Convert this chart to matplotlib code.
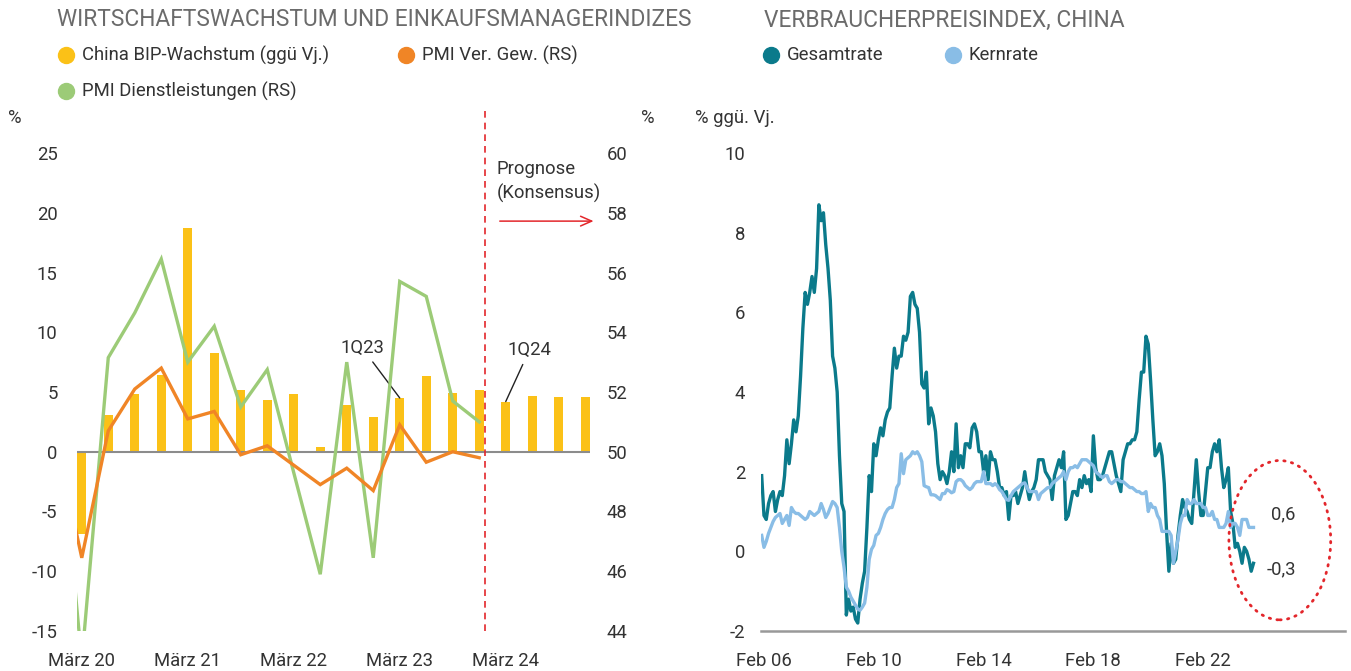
import matplotlib
matplotlib.use('Agg')
import matplotlib.pyplot as plt
import numpy as np
import pandas as pd
from matplotlib.lines import Line2D
from matplotlib.patches import Ellipse

plt.rcParams['font.family'] = ['Roboto', 'DejaVu Sans']
plt.rcParams['axes.unicode_minus'] = False

# ---------------- Left chart data ----------------
quarters = ['1Q20', '2Q20', '3Q20', '4Q20', '1Q21', '2Q21', '3Q21', '4Q21',
            '1Q22', '2Q22', '3Q22', '4Q22', '1Q23', '2Q23', '3Q23', '4Q23',
            '1Q24', '2Q24', '3Q24', '4Q24']
gdp_growth = [-6.9, 3.1, 4.8, 6.4, 18.7, 8.3, 5.2, 4.3,
              4.8, 0.4, 3.9, 2.9, 4.5, 6.3, 4.9, 5.2,
              4.2, 4.7, 4.6, 4.6]
pmi_quarters = ['4Q19'] + quarters[:16]
pmi_manufacturing = [50.6, 46.45, 50.7, 52.1, 52.8, 51.1, 51.35, 49.9, 50.2,
                     49.55, 48.9, 49.45, 48.7, 50.9, 49.65, 50.0, 49.8]
pmi_services = [52.5, 43.0, 53.15, 54.65, 56.45, 53.0, 54.2, 51.5, 52.75,
                49.3, 45.9, 53.0, 46.45, 55.7, 55.2, 51.7, 51.0]
left_tick_quarters = ['1Q20', '1Q21', '1Q22', '1Q23', '1Q24']
left_tick_labels = ['März 20', 'März 21', 'März 22', 'März 23', 'März 24']
forecast_start = '1Q24'

# ---------------- Right chart data (monthly, Jan 2006 - Dec 2023) ----------------
cpi_headline_by_year = {
    2006: [1.9, 0.9, 0.8, 1.2, 1.4, 1.5, 1.0, 1.3, 1.5, 1.4, 1.9, 2.8],
    2007: [2.2, 2.7, 3.3, 3.0, 3.4, 4.4, 5.6, 6.5, 6.2, 6.5, 6.9, 6.5],
    2008: [7.1, 8.7, 8.3, 8.5, 7.7, 7.1, 6.3, 4.9, 4.6, 4.0, 2.4, 1.2],
    2009: [1.0, -1.6, -1.2, -1.5, -1.4, -1.7, -1.8, -1.2, -0.8, -0.5, 0.6, 1.9],
    2010: [1.5, 2.7, 2.4, 2.8, 3.1, 2.9, 3.3, 3.5, 3.6, 4.4, 5.1, 4.6],
    2011: [4.9, 4.9, 5.4, 5.3, 5.5, 6.4, 6.5, 6.2, 6.1, 5.5, 4.2, 4.1],
    2012: [4.5, 3.2, 3.6, 3.4, 3.0, 2.2, 1.8, 2.0, 1.9, 1.7, 2.0, 2.5],
    2013: [2.0, 3.2, 2.1, 2.4, 2.1, 2.7, 2.7, 2.6, 3.1, 3.2, 3.0, 2.5],
    2014: [2.5, 2.0, 2.4, 1.8, 2.5, 2.3, 2.3, 2.0, 1.6, 1.6, 1.4, 1.5],
    2015: [0.8, 1.4, 1.4, 1.5, 1.2, 1.4, 1.6, 2.0, 1.6, 1.3, 1.5, 1.6],
    2016: [1.8, 2.3, 2.3, 2.3, 2.0, 1.9, 1.8, 1.3, 1.9, 2.1, 2.3, 2.1],
    2017: [2.5, 0.8, 0.9, 1.2, 1.5, 1.5, 1.4, 1.8, 1.6, 1.9, 1.7, 1.8],
    2018: [1.5, 2.9, 2.1, 1.8, 1.8, 1.9, 2.1, 2.3, 2.5, 2.5, 2.2, 1.9],
    2019: [1.7, 1.5, 2.3, 2.5, 2.7, 2.7, 2.8, 2.8, 3.0, 3.8, 4.5, 4.5],
    2020: [5.4, 5.2, 4.3, 3.3, 2.4, 2.5, 2.7, 2.4, 1.7, 0.5, -0.5, 0.2],
    2021: [-0.3, -0.2, 0.4, 0.9, 1.3, 1.1, 1.0, 0.8, 0.7, 1.5, 2.3, 1.5],
    2022: [0.9, 0.9, 1.5, 2.1, 2.1, 2.5, 2.7, 2.5, 2.8, 2.1, 1.6, 1.8],
    2023: [2.1, 1.0, 0.7, 0.1, 0.2, 0.0, -0.3, 0.1, 0.0, -0.2, -0.5, -0.3],
}
cpi_core_by_year = {
    2006: [0.4, 0.1, 0.25, 0.45, 0.6, 0.75, 0.85, 0.9, 0.95, 0.7, 0.8, 0.9],
    2007: [0.65, 1.1, 1.0, 0.95, 0.95, 0.9, 0.85, 0.8, 0.85, 1.0, 0.95, 0.9],
    2008: [0.95, 1.0, 1.2, 1.05, 0.85, 0.95, 1.1, 1.25, 1.2, 1.1, 0.6, 0.0],
    2009: [-0.4, -0.9, -1.0, -1.15, -1.25, -1.35, -1.45, -1.48, -1.4, -1.3, -0.9, -0.2],
    2010: [0.05, 0.15, 0.4, 0.45, 0.6, 0.8, 0.95, 1.05, 1.1, 1.1, 1.3, 1.6],
    2011: [1.7, 2.45, 1.95, 2.3, 2.35, 2.4, 2.5, 2.45, 2.5, 2.4, 2.25, 1.65],
    2012: [1.62, 1.6, 1.42, 1.42, 1.4, 1.35, 1.3, 1.45, 1.45, 1.55, 1.52, 1.47],
    2013: [1.5, 1.75, 1.8, 1.8, 1.75, 1.65, 1.6, 1.55, 1.6, 1.7, 1.75, 1.75],
    2014: [1.75, 2.0, 1.7, 1.7, 1.7, 1.65, 1.7, 1.65, 1.55, 1.5, 1.4, 1.3],
    2015: [1.28, 1.4, 1.5, 1.55, 1.6, 1.65, 1.7, 1.72, 1.6, 1.5, 1.5, 1.5],
    2016: [1.5, 1.3, 1.45, 1.5, 1.55, 1.6, 1.6, 1.7, 1.75, 1.8, 1.85, 1.9],
    2017: [2.0, 1.8, 2.0, 2.1, 2.1, 2.15, 2.1, 2.2, 2.3, 2.3, 2.3, 2.25],
    2018: [2.2, 2.15, 2.0, 1.95, 1.9, 1.85, 1.9, 1.9, 1.75, 1.7, 1.75, 1.8],
    2019: [1.8, 1.75, 1.75, 1.7, 1.65, 1.6, 1.6, 1.55, 1.5, 1.5, 1.45, 1.45],
    2020: [1.5, 1.0, 1.2, 1.1, 1.1, 0.9, 0.8, 0.5, 0.5, 0.5, 0.5, 0.4],
    2021: [-0.3, 0.0, 0.3, 0.7, 0.9, 0.9, 1.3, 1.2, 1.2, 1.3, 1.2, 1.2],
    2022: [1.2, 1.1, 1.1, 0.9, 0.9, 1.0, 0.8, 0.8, 0.6, 0.6, 0.6, 0.7],
    2023: [1.0, 0.6, 0.7, 0.7, 0.6, 0.4, 0.8, 0.8, 0.8, 0.6, 0.6, 0.6],
}
cpi_start = '2006-01-01'
right_tick_years = [2006, 2010, 2014, 2018, 2022]

# ---------------- Styling ----------------
C_YELLOW = '#FBC117'
C_ORANGE = '#F08526'
C_GREEN = '#9CCB77'
C_TEAL = '#0B7A8B'
C_LBLUE = '#89BDE6'
C_RED = '#E3262B'
C_TITLE = '#6B6B6B'
C_TEXT = '#333333'
C_AXIS = '#8C8C8C'
FS = 13.3

W, H = 1351, 671
fig = plt.figure(figsize=(W / 100, H / 100), dpi=100)

# ---------------- Left chart ----------------
ax = fig.add_axes([77 / W, 40 / H, 513 / W, 478 / H])
ax2 = ax.twinx()
xq = np.arange(len(quarters))
xp = np.arange(len(pmi_quarters)) - 1
ax.bar(xq, gdp_growth, width=0.33, color=C_YELLOW, zorder=2)
ax.axhline(0, color=C_AXIS, lw=1.5, zorder=3)
ax2.plot(xp, pmi_services, color=C_GREEN, lw=2.4, solid_joinstyle='miter', zorder=4)
ax2.plot(xp, pmi_manufacturing, color=C_ORANGE, lw=2.4, solid_joinstyle='miter', zorder=5)
ax.set_xlim(-0.18, len(quarters) - 1 + 0.18)
ax.set_ylim(-15, 25)
ax2.set_ylim(44, 60)
ax.set_yticks(np.arange(-15, 26, 5))
ax2.set_yticks(np.arange(44, 61, 2))
ax.set_xticks([quarters.index(q) for q in left_tick_quarters])
ax.set_xticklabels(left_tick_labels)
for a in (ax, ax2):
    for s in a.spines.values():
        s.set_visible(False)
ax.tick_params(axis='y', length=0, pad=14, labelsize=FS, labelcolor=C_TEXT)
ax.tick_params(axis='x', length=0, pad=15, labelsize=FS, labelcolor=C_TEXT)
ax2.tick_params(axis='y', length=0, pad=12, labelsize=FS, labelcolor=C_TEXT)
ax2.tick_params(axis='x', length=0)

# forecast divider
fx = quarters.index(forecast_start) - 0.78
ax.vlines(fx, -15, 28.8, colors=C_RED, linestyles=(0, (4, 3)), lw=1.2,
          clip_on=False, zorder=6)
ax.text(fx + 0.45, 22.6, 'Prognose\n(Konsensus)', fontsize=FS, color=C_TEXT,
        ha='left', va='center', linespacing=1.4)
ax.annotate('', xy=(fx + 4.2, 19.3), xytext=(fx + 0.45, 19.3),
            arrowprops=dict(arrowstyle='->,head_length=0.8,head_width=0.35',
                            color=C_RED, lw=1.1),
            annotation_clip=False)

# annotations
for q, off in (('1Q23', (-27, 36)), ('1Q24', (17, 37))):
    i = quarters.index(q)
    ax.annotate(q, xy=(i, gdp_growth[i]), xytext=off, textcoords='offset points',
                fontsize=FS, color=C_TEXT, ha='center', va='center',
                arrowprops=dict(arrowstyle='-', color='#222222', lw=1.0,
                                shrinkA=2, shrinkB=0))

# ---------------- Right chart ----------------
axr = fig.add_axes([761 / W, 40 / H, 584 / W, 478 / H])
headline = np.concatenate([cpi_headline_by_year[y] for y in sorted(cpi_headline_by_year)])
core = np.concatenate([cpi_core_by_year[y] for y in sorted(cpi_core_by_year)])
dates = pd.date_range(cpi_start, periods=len(headline), freq='MS')
xm = np.arange(len(dates))
axr.plot(xm, headline, color=C_TEAL, lw=2.4, zorder=3)
axr.plot(xm, core, color=C_LBLUE, lw=2.4, zorder=4)
axr.set_ylim(-2, 10)
axr.set_xlim(-0.3, 255)
axr.set_yticks(np.arange(-2, 11, 2))
tick_pos = [i for i, d in enumerate(dates) if d.month == 2 and d.year in right_tick_years]
axr.set_xticks(tick_pos)
axr.set_xticklabels([dates[i].strftime('Feb %y') for i in tick_pos])
for k, s in axr.spines.items():
    s.set_visible(k == 'bottom')
axr.spines['bottom'].set_color('#999999')
axr.spines['bottom'].set_linewidth(1.8)
axr.tick_params(axis='y', length=0, pad=11.5, labelsize=FS, labelcolor=C_TEXT)
axr.tick_params(axis='x', length=0, pad=15, labelsize=FS, labelcolor=C_TEXT)

# circle annotation
last = len(xm) - 1
axr.add_patch(Ellipse((last + 11.5, 0.28), 44.5, 4.0, fill=False, edgecolor=C_RED,
                      lw=2.0, linestyle=(0, (0.5, 2.3)), capstyle='round',
                      clip_on=False, zorder=5))
axr.text(last + 13, core[-1] + 0.33, f'{core[-1]:.1f}'.replace('.', ','),
         fontsize=FS, color=C_TEXT, ha='center', va='center')
axr.text(last + 12, headline[-1] - 0.15, f'{headline[-1]:.1f}'.replace('.', ','),
         fontsize=FS, color=C_TEXT, ha='center', va='center')

# ---------------- Titles, legends, units ----------------
def fy(py):
    return 1 - py / H

fig.text(57 / W, fy(20), 'WIRTSCHAFTSWACHSTUM UND EINKAUFSMANAGERINDIZES',
         fontsize=16.4, color=C_TITLE, ha='left', va='center')
fig.text(764 / W, fy(20), 'VERBRAUCHERPREISINDEX, CHINA',
         fontsize=16.4, color=C_TITLE, ha='left', va='center')

legend_items = [
    (66, 55, C_YELLOW, 'China BIP-Wachstum (ggü Vj.)'),
    (406, 55, C_ORANGE, 'PMI Ver. Gew. (RS)'),
    (66, 91, C_GREEN, 'PMI Dienstleistungen (RS)'),
    (771, 55, C_TEAL, 'Gesamtrate'),
    (953, 55, C_LBLUE, 'Kernrate'),
]
for px, py, col, lab in legend_items:
    fig.add_artist(Line2D([px / W], [fy(py)], marker='o', markersize=11.5,
                          color=col, linestyle='none', transform=fig.transFigure))
    fig.text((px + 16) / W, fy(py), lab, fontsize=FS, color=C_TEXT,
             ha='left', va='center')

fig.text(8 / W, fy(118), '%', fontsize=FS, color=C_TEXT, ha='left', va='center')
fig.text(641 / W, fy(118), '%', fontsize=FS, color=C_TEXT, ha='left', va='center')
fig.text(695 / W, fy(118), '% ggü. Vj.', fontsize=FS, color=C_TEXT, ha='left', va='center')

fig.savefig('out.png', dpi=100)
